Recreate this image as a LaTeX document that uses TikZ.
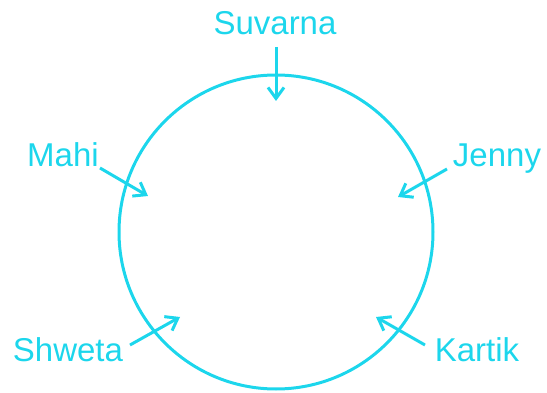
\documentclass[tikz,border=0pt]{standalone}
\usepackage{fontspec}
\setmainfont{Liberation Sans}
\usetikzlibrary{arrows.meta}
\definecolor{cy}{RGB}{28,214,236}
\begin{document}
\begin{tikzpicture}[x=1pt,y=-1pt,
  lbl/.style={text=cy,font=\fontsize{33}{36}\selectfont,inner sep=0pt,anchor=base},
  arr/.style={draw=cy,line width=3pt,-{Straight Barb[length=11pt,width=16pt,line width=3pt]}}]
\useasboundingbox (0,0) rectangle (547,393);
\node[draw=cy,line width=3pt,circle,minimum size=314pt,inner sep=0pt] (c) at (276,232) {};
\node[lbl] (suv) at (275,35) {Suvarna};
\node[lbl] (mahi) at (63,167) {Mahi};
\node[lbl] (jen) at (497,167) {Jenny};
\node[lbl] (shw) at (68,361) {Shweta};
\node[lbl] (kar) at (477,361) {Kartik};
\coordinate (s1) at (276,47); \coordinate (s2) at (276,101);
\coordinate (m1) at (100,168); \coordinate (m2) at (148,196);
\coordinate (j1) at (447,169); \coordinate (j2) at (398,197);
\coordinate (w1) at (130,345); \coordinate (w2) at (180,317);
\coordinate (k1) at (425,345); \coordinate (k2) at (376,317);
\draw[arr] (s1) -- (s2);
\draw[arr] (m1) -- (m2);
\draw[arr] (j1) -- (j2);
\draw[arr] (w1) -- (w2);
\draw[arr] (k1) -- (k2);
\end{tikzpicture}
\end{document}
